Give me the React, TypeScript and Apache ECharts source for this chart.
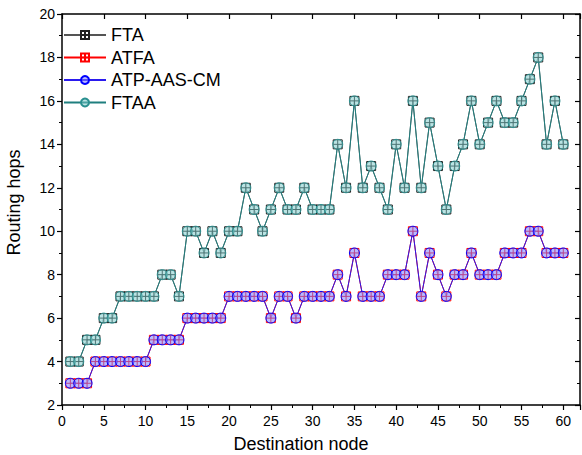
import React, { useEffect, useRef } from "react";
import * as echarts from "echarts";

const nodes = Array.from({ length: 60 }, (_, i) => i + 1);
const ftaHops = [4, 4, 5, 5, 6, 6, 7, 7, 7, 7, 7, 8, 8, 7, 10, 10, 9, 10, 9, 10, 10, 12, 11, 10, 11, 12, 11, 11, 12, 11, 11, 11, 14, 12, 16, 12, 13, 12, 11, 14, 12, 16, 12, 15, 13, 11, 13, 14, 16, 14, 15, 16, 15, 15, 16, 17, 18, 14, 16, 14];
const ftaaHops = [4, 4, 5, 5, 6, 6, 7, 7, 7, 7, 7, 8, 8, 7, 10, 10, 9, 10, 9, 10, 10, 12, 11, 10, 11, 12, 11, 11, 12, 11, 11, 11, 14, 12, 16, 12, 13, 12, 11, 14, 12, 16, 12, 15, 13, 11, 13, 14, 16, 14, 15, 16, 15, 15, 16, 17, 18, 14, 16, 14];
const atfaHops = [3, 3, 3, 4, 4, 4, 4, 4, 4, 4, 5, 5, 5, 5, 6, 6, 6, 6, 6, 7, 7, 7, 7, 7, 6, 7, 7, 6, 7, 7, 7, 7, 8, 7, 9, 7, 7, 7, 8, 8, 8, 10, 7, 9, 8, 7, 8, 8, 9, 8, 8, 8, 9, 9, 9, 10, 10, 9, 9, 9];
const atpHops = [3, 3, 3, 4, 4, 4, 4, 4, 4, 4, 5, 5, 5, 5, 6, 6, 6, 6, 6, 7, 7, 7, 7, 7, 6, 7, 7, 6, 7, 7, 7, 7, 8, 7, 9, 7, 7, 7, 8, 8, 8, 10, 7, 9, 8, 7, 8, 8, 9, 8, 8, 8, 9, 9, 9, 10, 10, 9, 9, 9];
const seriesNames = ["FTA", "ATFA", "ATP-AAS-CM", "FTAA"];

const SQ = "path://M0,0L10,0L10,10L0,10Z M5,0L5,10 M0,5L10,5";
const FONT = "'Liberation Sans', Arial, sans-serif";

export default function App() {
  const ref = useRef<HTMLDivElement>(null);
  useEffect(() => {
    const chart = echarts.init(ref.current!, null, { renderer: "svg" });
    const pair = (arr: number[]) => arr.map((v, i) => [nodes[i], v]);
    const axisCommon = {
      axisLine: { show: true, onZero: false, lineStyle: { color: "#000", width: 1.5 } },
      splitLine: { show: false },
    };
    chart.setOption({
      animation: false,
      backgroundColor: "#fff",
      textStyle: { fontFamily: FONT },
      grid: { left: 62, right: 2, top: 14, bottom: 50, containLabel: false, outerBoundsMode: "none" },
      legend: {
        orient: "vertical",
        left: 63,
        top: 26,
        padding: 0,
        itemWidth: 42,
        itemHeight: 10,
        itemGap: 4.5,
        textStyle: { fontSize: 18, fontFamily: FONT, color: "#000", lineHeight: 18 },
        data: seriesNames,
      },
      xAxis: [
        {
          type: "value",
          min: 0,
          max: 62,
          interval: 5,
          name: "Destination node",
          nameLocation: "middle",
          nameGap: 30,
          nameTextStyle: { fontSize: 18, color: "#000", fontFamily: FONT, padding: [0, 40, 0, 0] },
          ...axisCommon,
          axisTick: { show: true, inside: false, length: 5, lineStyle: { color: "#000", width: 1.2 } },
          minorTick: { show: true, splitNumber: 2, length: 3, lineStyle: { color: "#000", width: 1 } },
          axisLabel: { fontSize: 14, color: "#000", margin: 9, showMaxLabel: false, fontFamily: FONT },
        },
        {
          type: "value",
          position: "top",
          min: 0,
          max: 62,
          interval: 5,
          ...axisCommon,
          axisTick: { show: true, inside: true, length: 5, lineStyle: { color: "#000", width: 1.2 } },
          minorTick: { show: false },
          axisLabel: { show: false },
        },
      ],
      yAxis: [
        {
          type: "value",
          min: 2,
          max: 20,
          interval: 2,
          name: "Routing hops",
          nameLocation: "middle",
          nameGap: 39,
          nameTextStyle: { fontSize: 18, color: "#000", fontFamily: FONT, padding: [0, 0, 0, 14] },
          ...axisCommon,
          axisTick: { show: true, inside: false, length: 5, lineStyle: { color: "#000", width: 1.2 } },
          minorTick: { show: true, splitNumber: 2, length: 3, lineStyle: { color: "#000", width: 1 } },
          axisLabel: { fontSize: 14, color: "#000", margin: 7, fontFamily: FONT },
        },
        {
          type: "value",
          position: "right",
          min: 2,
          max: 20,
          interval: 2,
          ...axisCommon,
          axisTick: { show: true, inside: true, length: 5, lineStyle: { color: "#000", width: 1.2 } },
          minorTick: { show: true, splitNumber: 2, length: 3, lineStyle: { color: "#000", width: 1 } },
          axisLabel: { show: false },
        },
      ],
      series: [
        {
          name: "FTA",
          type: "line",
          data: pair(ftaHops),
          symbol: SQ,
          symbolSize: 9,
          color: "#555555",
          lineStyle: { color: "#555555", width: 1 },
          itemStyle: { color: "rgba(255,255,255,0.6)", borderColor: "#222222", borderWidth: 1 },
        },
        {
          name: "ATFA",
          type: "line",
          data: pair(atfaHops),
          symbol: SQ,
          symbolSize: 9,
          color: "#ff0000",
          lineStyle: { color: "#ff0000", width: 1 },
          itemStyle: { color: "rgba(255,255,255,0.6)", borderColor: "#ff0000", borderWidth: 1 },
        },
        {
          name: "ATP-AAS-CM",
          type: "line",
          data: pair(atpHops),
          symbol: "circle",
          symbolSize: 10,
          color: "#1a1aff",
          lineStyle: { color: "#2a1aee", width: 1 },
          itemStyle: { color: "rgba(130,130,255,0.55)", borderColor: "#0000ff", borderWidth: 1 },
        },
        {
          name: "FTAA",
          type: "line",
          data: pair(ftaaHops),
          symbol: "circle",
          symbolSize: 10,
          color: "#2f8f8f",
          lineStyle: { color: "#1f7f7f", width: 1 },
          itemStyle: { color: "rgba(120,200,200,0.5)", borderColor: "#2a9090", borderWidth: 1 },
        },
      ],
    });
    return () => chart.dispose();
  }, []);
  return <div ref={ref} style={{ width: 582, height: 455, position: "absolute", left: 0, top: 0 }} />;
}
